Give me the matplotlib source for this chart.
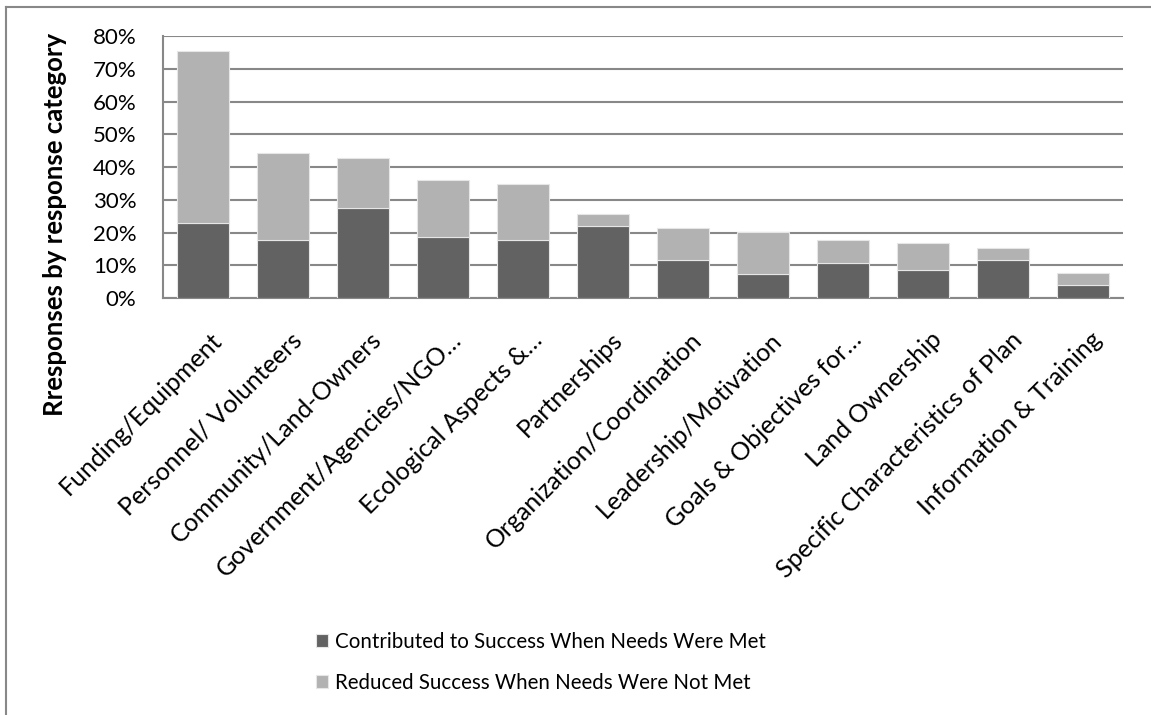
import matplotlib.pyplot as plt
import matplotlib.transforms as mtransforms
from matplotlib.lines import Line2D
from matplotlib.ticker import PercentFormatter
import numpy as np

categories = [
    "Funding/Equipment",
    "Personnel/ Volunteers",
    "Community/Land-Owners",
    "Government/Agencies/NGO…",
    "Ecological Aspects &…",
    "Partnerships",
    "Organization/Coordination",
    "Leadership/Motivation",
    "Goals & Objectives for…",
    "Land Ownership",
    "Specific Characteristics of Plan",
    "Information & Training",
]
contributed = [23.0, 17.6, 27.4, 18.7, 17.6, 22.1, 11.7, 7.3, 10.8, 8.4, 11.7, 4.1]
totals = [75.4, 44.2, 42.7, 36.0, 34.8, 25.5, 21.3, 20.2, 17.8, 16.8, 15.4, 7.6]
reduced = [t - c for t, c in zip(totals, contributed)]

series_labels = [
    "Contributed to Success When Needs Were Met",
    "Reduced Success When Needs Were Not Met",
]
y_ticks = [0, 10, 20, 30, 40, 50, 60, 70, 80]

plt.rcParams["font.family"] = ["Lato", "DejaVu Sans"]

W, H = 1151, 715
fig = plt.figure(figsize=(W / 100, H / 100), dpi=100)
ax = fig.add_axes([163 / W, 1 - 298 / H, (1123 - 163) / W, (298 - 36) / H])

x = np.arange(len(categories))
bar_w = 0.64
ax.bar(x, contributed, bar_w, color="#626262", edgecolor="#e6e6e6",
       linewidth=0.8, label=series_labels[0], zorder=3)
ax.bar(x, reduced, bar_w, bottom=contributed, color="#b2b2b2",
       edgecolor="#e6e6e6", linewidth=0.8, label=series_labels[1], zorder=3)

ax.set_xlim(-0.5, len(categories) - 0.5)
ax.set_ylim(0, 80)
ax.set_yticks(y_ticks)
ax.yaxis.set_major_formatter(PercentFormatter(decimals=0))
ax.grid(axis="y", color="#888888", linewidth=1.5, zorder=0)
for side in ["top", "right"]:
    ax.spines[side].set_visible(False)
for side in ["left", "bottom"]:
    ax.spines[side].set_color("#888888")
    ax.spines[side].set_linewidth(1.5)
ax.tick_params(axis="both", length=0, colors="black")
ax.tick_params(axis="y", labelsize=16, pad=19)

ax.set_xticks(x)
ax.set_xticklabels(categories, rotation=45, ha="right",
                   rotation_mode="anchor", fontsize=18)
ax.tick_params(axis="x", pad=0)
shift = mtransforms.ScaledTranslation(7 / 100, -30 / 100, fig.dpi_scale_trans)
for lbl in ax.get_xticklabels():
    lbl.set_transform(lbl.get_transform() + shift)

fig.text(55 / W, 1 - 224 / H, "Rresponses by response category",
         rotation=90, ha="center", va="center", fontsize=18.5,
         fontweight="bold")

handles, labels = ax.get_legend_handles_labels()
fig.legend(handles, labels, loc="upper left",
           bbox_to_anchor=(297 / W, 1 - 613 / H), frameon=False,
           fontsize=14.8, handlelength=0.6, handleheight=0.6,
           handletextpad=0.35, labelspacing=1.05)

# outer chart frame (cropped on the right and bottom)
fig.add_artist(Line2D([6 / W, 1], [1 - 7 / H, 1 - 7 / H], color="#888888",
                      linewidth=1.5, transform=fig.transFigure))
fig.add_artist(Line2D([6 / W, 6 / W], [0, 1 - 7 / H], color="#888888",
                      linewidth=1.5, transform=fig.transFigure))

fig.savefig("out.png", dpi=100)
